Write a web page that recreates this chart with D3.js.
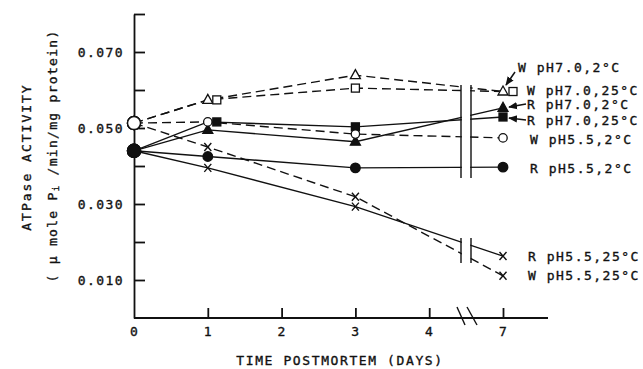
<!DOCTYPE html>
<html>
<head>
<meta charset="utf-8">
<script src="https://cdn.jsdelivr.net/npm/d3@7"></script>
<style>
  body { margin: 0; background: #fff; }
  text { font-family: "DejaVu Sans Mono", "Liberation Mono", monospace; fill: #111; stroke: #111; stroke-width: 0.35px; }
</style>
</head>
<body>
<div id="chart"></div>
<script>
// days sampled, and tick labels of the broken x axis
const days = [0, 1, 3, 7];
const xTickDays = [0, 1, 2, 3, 4, 7];
const yTicks = [0.01, 0.02, 0.03, 0.04, 0.05, 0.06, 0.07, 0.08];
const yLabelled = [0.01, 0.03, 0.05, 0.07];

// ATPase activity (umole Pi/min/mg protein)
const wPH70_2 = [0.0513, 0.0574, 0.0639, 0.0596];
const wPH70_25 = [0.0513, 0.0574, 0.0605, 0.0596];
const rPH70_2 = [0.0440, 0.0495, 0.0464, 0.0553];
const rPH70_25 = [0.0440, 0.0516, 0.0503, 0.0529];
const wPH55_2 = [0.0513, 0.0516, 0.0484, 0.0474];
const rPH55_2 = [0.0440, 0.0425, 0.0395, 0.0397];
const rPH55_25 = [0.0440, 0.0395, 0.0293, 0.0163];
const wPH55_25 = [0.0513, 0.0450, 0.0319, 0.0111];

const seriesNames = ["W pH7.0,2°C", "W pH7.0,25°C", "R pH7.0,2°C", "R pH7.0,25°C",
  "W pH5.5,2°C", "R pH5.5,2°C", "R pH5.5,25°C", "W pH5.5,25°C"];
const seriesValues = [wPH70_2, wPH70_25, rPH70_2, rPH70_25, wPH55_2, rPH55_2, rPH55_25, wPH55_25];

// style per series: marker, fill, dashed, marker nudge (px) at overlapping days, label box
const styles = [
  { m: "tri", fill: false, dash: true, nudge: {}, lx: 518, ly: 67 },
  { m: "sq", fill: false, dash: true, nudge: { 1: 9, 7: 10 }, lx: 527, ly: 90 },
  { m: "tri", fill: true, dash: false, nudge: {}, lx: 527, ly: 104 },
  { m: "sq", fill: true, dash: false, nudge: { 1: 9 }, lx: 527, ly: 120 },
  { m: "circ", fill: false, dash: true, nudge: {}, lx: 530, ly: 139 },
  { m: "circ", fill: true, dash: false, nudge: {}, lx: 530, ly: 168 },
  { m: "x", fill: true, dash: false, nudge: {}, lx: 528, ly: 256 },
  { m: "x", fill: false, dash: true, nudge: {}, lx: 528, ly: 275 },
];

const width = 643, height = 369;
const svg = d3.select("#chart").append("svg")
  .attr("width", width).attr("height", height);

// day -> position on the broken axis (4 | 7 are adjacent)
const pos = (d) => (d > 4 ? d - 2 : d);
const x = d3.scaleLinear().domain([0, 5]).range([134, 503]);
const y = d3.scaleLinear().domain([0, 0.08]).range([318, 14]);
const breakL = 461, breakR = 471;

//lines
const line = d3.line().x((d) => x(pos(d.day))).y((d) => y(d.v));
const lines = svg.append("g");
seriesValues.forEach((vals, i) => {
  const pts = vals.map((v, k) => ({ day: days[k], v }));
  lines.append("path")
    .attr("d", line(pts))
    .attr("fill", "none")
    .attr("stroke", "#111")
    .attr("stroke-width", 1.4)
    .attr("stroke-dasharray", styles[i].dash ? "9,5" : null);
});
// gap at the axis break
svg.append("rect").attr("x", breakL + 0.8).attr("y", 14)
  .attr("width", breakR - breakL - 1.6).attr("height", 296).attr("fill", "#fff");
[[85, 178], [238, 263]].forEach(([a, b]) => {
  [breakL, breakR].forEach((bx) => {
    svg.append("line").attr("x1", bx).attr("x2", bx).attr("y1", a).attr("y2", b)
      .attr("stroke", "#111").attr("stroke-width", 1.4);
  });
});

// axes
const yAxis = svg.append("g").attr("transform", `translate(${x(0)},0)`)
  .call(d3.axisLeft(y).tickValues(yTicks).tickSizeInner(-11).tickSizeOuter(0).tickPadding(10)
    .tickFormat((v) => (yLabelled.some((t) => Math.abs(t - v) < 1e-9) ? d3.format(".3f")(v) : "")));
const xAxis = svg.append("g").attr("transform", `translate(0,${y(0)})`)
  .call(d3.axisBottom(x).tickValues([1, 2, 3, 4, 5, 0]).tickSizeInner(-10).tickSizeOuter(0).tickPadding(9)
    .tickFormat((i) => xTickDays[i]));
xAxis.select(".domain").remove();
xAxis.append("line").attr("x1", x(0)).attr("x2", 548).attr("stroke", "#111").attr("stroke-width", 1.8);
xAxis.selectAll(".tick").filter((d) => d === 0).select("line").remove();
[yAxis, xAxis].forEach((g) => {
  g.selectAll("path, line").attr("stroke", "#111").attr("stroke-width", 1.8);
  g.selectAll("text").attr("font-size", 13).attr("letter-spacing", 1.4)
    .attr("font-family", "DejaVu Sans Mono").attr("fill", "#111");
});
// slashes on x axis
[[457, 465], [467, 477]].forEach(([a, b]) => {
  svg.append("line").attr("x1", a).attr("y1", 307).attr("x2", b).attr("y2", 325)
    .attr("stroke", "#111").attr("stroke-width", 1.4);
});

// markers
const marks = svg.append("g");
seriesValues.forEach((vals, i) => {
  const s = styles[i];
  vals.forEach((v, k) => {
    const day = days[k];
    const cx = x(pos(day)) + (s.nudge[day] || 0);
    const cy = y(v);
    const fill = s.fill ? "#111" : "#fff";
    if (day === 0) {
      marks.append("circle").attr("cx", cx).attr("cy", cy).attr("r", 6.5)
        .attr("fill", v > 0.048 ? "#fff" : "#111").attr("stroke", "#111").attr("stroke-width", 1.4);
      return;
    }
    if (s.m === "circ") {
      marks.append("circle").attr("cx", cx).attr("cy", cy).attr("r", s.fill ? 4.8 : 4.2)
        .attr("fill", fill).attr("stroke", "#111").attr("stroke-width", 1.3);
    } else if (s.m === "sq") {
      marks.append("rect").attr("x", cx - 4).attr("y", cy - 4).attr("width", 8).attr("height", 8)
        .attr("fill", fill).attr("stroke", "#111").attr("stroke-width", 1.3);
    } else if (s.m === "tri") {
      marks.append("path").attr("d", `M${cx},${cy - 5.5}L${cx + 5},${cy + 3.5}L${cx - 5},${cy + 3.5}Z`)
        .attr("fill", fill).attr("stroke", "#111").attr("stroke-width", 1.3);
    } else {
      marks.append("path").attr("d", `M${cx - 3.5},${cy - 4}L${cx + 3.5},${cy + 4}M${cx + 3.5},${cy - 4}L${cx - 3.5},${cy + 4}`)
        .attr("stroke", "#111").attr("stroke-width", 1.4);
    }
  });
});

// series labels
const labelG = svg.append("g");
seriesNames.forEach((name, i) => {
  labelG.append("text").attr("x", styles[i].lx).attr("y", styles[i].ly)
    .attr("dominant-baseline", "central")
    .attr("font-size", 13).attr("letter-spacing", 1.5).text(name);
});

// arrows
svg.append("defs").append("marker").attr("id", "arr")
  .attr("viewBox", "0 0 10 10").attr("refX", 9).attr("refY", 5)
  .attr("markerWidth", 9).attr("markerHeight", 9).attr("markerUnits", "userSpaceOnUse")
  .attr("orient", "auto")
  .append("path").attr("d", "M0,1L10,5L0,9Z").attr("fill", "#111");
[[515, 72, 506, 85], [526, 104, 509, 107], [526, 120, 509, 118]].forEach(([a, b, c, d]) => {
  svg.append("line").attr("x1", a).attr("y1", b).attr("x2", c).attr("y2", d)
    .attr("stroke", "#111").attr("stroke-width", 1.5).attr("marker-end", "url(#arr)");
});

// axis titles
svg.append("text").attr("x", 340).attr("y", 360).attr("text-anchor", "middle")
  .attr("dominant-baseline", "central").attr("font-size", 13).attr("letter-spacing", 1.6)
  .text("TIME POSTMORTEM (DAYS)");
svg.append("text").attr("transform", "translate(26,157) rotate(-90)")
  .attr("text-anchor", "middle").attr("dominant-baseline", "central")
  .attr("font-size", 13).attr("letter-spacing", 2).text("ATPase ACTIVITY");
const sub = svg.append("text").attr("transform", "translate(52,156) rotate(-90)")
  .attr("text-anchor", "middle").attr("dominant-baseline", "central")
  .attr("font-size", 13).attr("letter-spacing", 1.3);
sub.append("tspan").text("( μ mole P");
sub.append("tspan").attr("font-size", 9).attr("dy", 4).text("i");
sub.append("tspan").attr("dy", -4).text(" /min/mg protein)");
</script>
</body>
</html>
